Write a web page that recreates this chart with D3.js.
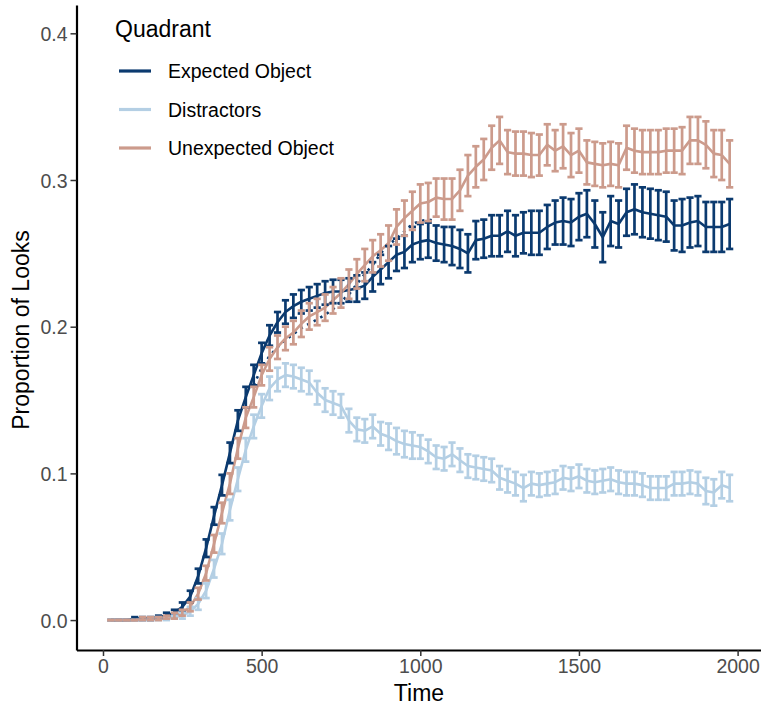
<!DOCTYPE html>
<html>
<head>
<meta charset="utf-8">
<script src="https://cdnjs.cloudflare.com/ajax/libs/d3/7.8.5/d3.min.js"></script>
<style>
body { margin:0; background:white; }
text { font-family:"Liberation Sans", Arial, sans-serif; }
.tickLabel { fill:#4d4d4d; font-size:19.5px; }
</style>
</head>
<body>
<svg id="svg1"></svg>
<script>
var times = [25,50,75,100,125,150,175,200,225,250,
    275,300,325,350,375,400,425,450,475,500,
    525,550,575,600,625,650,675,700,725,750,
    775,800,825,850,875,900,925,950,975,1000,
    1025,1050,1075,1100,1125,1150,1175,1200,1225,1250,
    1275,1300,1325,1350,1375,1400,1425,1450,1475,1500,
    1525,1550,1575,1600,1625,1650,1675,1700,1725,1750,
    1775,1800,1825,1850,1875,1900,1925,1950,1975]

var expectedMean = [0.000,0.000,0.000,0.001,0.001,0.001,0.002,0.003,0.005,0.009,
    0.016,0.030,0.049,0.071,0.092,0.114,0.136,0.152,0.167,0.182,
    0.194,0.203,0.210,0.214,0.217,0.219,0.221,0.223,0.224,0.224,
    0.225,0.226,0.228,0.234,0.239,0.244,0.249,0.251,0.256,0.258,
    0.259,0.257,0.256,0.255,0.253,0.250,0.259,0.260,0.262,0.262,
    0.265,0.262,0.264,0.264,0.264,0.268,0.271,0.272,0.271,0.275,
    0.277,0.270,0.261,0.272,0.270,0.278,0.280,0.278,0.277,0.276,
    0.275,0.269,0.269,0.271,0.272,0.268,0.268,0.268,0.270]
var expectedSE = [0.000,0.000,0.000,0.001,0.001,0.001,0.001,0.002,0.002,0.003,
    0.004,0.005,0.006,0.006,0.007,0.007,0.007,0.007,0.007,0.007,
    0.007,0.007,0.008,0.008,0.008,0.008,0.008,0.008,0.008,0.008,
    0.008,0.009,0.009,0.010,0.010,0.011,0.011,0.011,0.012,0.012,
    0.012,0.012,0.012,0.013,0.013,0.013,0.013,0.013,0.014,0.014,
    0.014,0.014,0.014,0.015,0.015,0.015,0.015,0.016,0.016,0.016,
    0.016,0.016,0.017,0.017,0.016,0.016,0.017,0.017,0.017,0.017,
    0.017,0.017,0.018,0.017,0.017,0.017,0.017,0.017,0.017]

var distractorMean = [0.000,0.000,0.000,0.000,0.000,0.001,0.001,0.001,0.002,0.003,
    0.006,0.011,0.020,0.035,0.052,0.075,0.096,0.116,0.132,0.146,
    0.158,0.164,0.167,0.166,0.164,0.162,0.155,0.150,0.148,0.146,
    0.136,0.130,0.129,0.132,0.127,0.125,0.122,0.120,0.119,0.118,
    0.115,0.111,0.110,0.113,0.109,0.105,0.104,0.103,0.102,0.097,
    0.095,0.093,0.090,0.093,0.092,0.093,0.094,0.097,0.096,0.098,
    0.095,0.094,0.095,0.096,0.094,0.093,0.093,0.092,0.090,0.090,
    0.090,0.093,0.093,0.094,0.093,0.088,0.087,0.092,0.090]
var distractorSE = [0.000,0.000,0.000,0.000,0.000,0.001,0.001,0.001,0.001,0.002,
    0.003,0.004,0.005,0.006,0.007,0.007,0.008,0.008,0.008,0.008,
    0.008,0.008,0.008,0.008,0.008,0.008,0.008,0.008,0.008,0.008,
    0.008,0.008,0.008,0.008,0.008,0.009,0.009,0.009,0.009,0.008,
    0.008,0.008,0.008,0.008,0.008,0.008,0.008,0.008,0.008,0.008,
    0.008,0.008,0.009,0.008,0.008,0.008,0.008,0.008,0.008,0.008,
    0.008,0.008,0.008,0.008,0.008,0.008,0.008,0.008,0.008,0.008,
    0.008,0.008,0.008,0.008,0.008,0.009,0.009,0.009,0.009]

var unexpectedMean = [0.000,0.000,0.000,0.000,0.001,0.001,0.001,0.002,0.003,0.005,
    0.009,0.018,0.032,0.052,0.073,0.093,0.117,0.138,0.152,0.167,
    0.178,0.186,0.192,0.196,0.202,0.207,0.210,0.213,0.218,0.223,
    0.229,0.236,0.242,0.248,0.252,0.257,0.268,0.274,0.279,0.284,
    0.285,0.288,0.287,0.287,0.293,0.303,0.309,0.314,0.322,0.327,
    0.319,0.318,0.318,0.317,0.317,0.324,0.320,0.323,0.317,0.320,
    0.312,0.311,0.310,0.311,0.310,0.322,0.320,0.319,0.319,0.319,
    0.320,0.320,0.320,0.327,0.327,0.324,0.318,0.317,0.311]
var unexpectedSE = [0.000,0.000,0.000,0.000,0.001,0.001,0.001,0.001,0.002,0.002,
    0.003,0.004,0.005,0.006,0.007,0.007,0.007,0.007,0.007,0.007,
    0.008,0.008,0.008,0.008,0.009,0.009,0.009,0.009,0.009,0.010,
    0.010,0.010,0.011,0.011,0.011,0.012,0.012,0.012,0.013,0.013,
    0.013,0.013,0.014,0.014,0.014,0.014,0.014,0.014,0.015,0.016,
    0.015,0.015,0.015,0.015,0.014,0.014,0.014,0.015,0.015,0.015,
    0.015,0.015,0.015,0.015,0.015,0.015,0.015,0.015,0.015,0.015,
    0.015,0.015,0.016,0.016,0.016,0.016,0.016,0.017,0.016]

// short dotted trace in the expected colour
var dottedTimes = [475,500,525,550,575,600,625,650,675,700,725,750,
    775,800,825,850,875,900,925,950,975,1000,1025,1050]
var dottedMean = [0.160,0.172,0.180,0.186,0.191,0.195,0.199,0.202,0.205,0.208,0.212,0.217,
    0.222,0.229,0.236,0.242,0.250,0.256,0.260,0.265,0.270,0.272,0.273,0.272]

var xTicks = [0,500,1000,1500,2000]
var yTicks = [0,0.1,0.2,0.3,0.4]

var categories = [
    {name:"Expected Object", color:"#0b3a6f", mean:expectedMean, se:expectedSE},
    {name:"Distractors", color:"#b4cfe4", mean:distractorMean, se:distractorSE},
    {name:"Unexpected Object", color:"#cc9b8c", mean:unexpectedMean, se:unexpectedSE}
]

var screen = {width:761,height:708}
var svg = d3.select("#svg1")
    .attr("width",screen.width)
    .attr("height",screen.height)

var xScale = d3.scaleLinear()
    .domain([-83.5,2075])
    .range([76.5,761.4])
var yScale = d3.scaleLinear()
    .domain([-0.0204,0.4193])
    .range([650,5])

var makePoints = function(cat)
{
    return times.map(function(t,i)
    {
        return {time:t, mean:cat.mean[i], se:cat.se[i]}
    })
}

var line = d3.line()
    .x(function(d){return xScale(d.time)})
    .y(function(d){return yScale(d.mean)})

var plot = svg.append("g")

plot.append("path")
    .datum(dottedTimes.map(function(t,i){return {time:t, mean:dottedMean[i]}}))
    .attr("d",line)
    .attr("fill","none")
    .attr("stroke",categories[0].color)
    .attr("stroke-width",2.6)
    .attr("stroke-dasharray","2.5,5")

categories.forEach(function(cat)
{
    plot.append("path")
        .datum(makePoints(cat))
        .attr("d",line)
        .attr("fill","none")
        .attr("stroke",cat.color)
        .attr("stroke-width",2.6)
        .attr("stroke-linejoin","round")
})

categories.forEach(function(cat)
{
    var bars = plot.append("g")
        .attr("stroke",cat.color)
        .attr("stroke-width",2.7)
        .selectAll("g")
        .data(makePoints(cat))
        .enter()
        .append("g")
    bars.append("line")
        .attr("x1",function(d){return xScale(d.time)})
        .attr("x2",function(d){return xScale(d.time)})
        .attr("y1",function(d){return yScale(d.mean-d.se)})
        .attr("y2",function(d){return yScale(d.mean+d.se)})
    bars.append("line")
        .attr("x1",function(d){return xScale(d.time)-3.6})
        .attr("x2",function(d){return xScale(d.time)+3.6})
        .attr("y1",function(d){return yScale(d.mean+d.se)})
        .attr("y2",function(d){return yScale(d.mean+d.se)})
    bars.append("line")
        .attr("x1",function(d){return xScale(d.time)-3.6})
        .attr("x2",function(d){return xScale(d.time)+3.6})
        .attr("y1",function(d){return yScale(d.mean-d.se)})
        .attr("y2",function(d){return yScale(d.mean-d.se)})
})

// axes
var xAxis = d3.axisBottom(xScale).tickValues(xTicks).tickSize(6).tickSizeOuter(0)
    .tickFormat(d3.format("d"))
var yAxis = d3.axisLeft(yScale).tickValues(yTicks).tickSize(6).tickSizeOuter(0)
    .tickFormat(d3.format(".1f"))

var gx = svg.append("g")
    .attr("transform","translate(0,650)")
    .call(xAxis)
var gy = svg.append("g")
    .attr("transform","translate(76.5,0)")
    .call(yAxis)

;[gx,gy].forEach(function(g)
{
    g.select(".domain").attr("stroke","black").attr("stroke-width",2.2)
    g.selectAll(".tick line").attr("stroke","#333333").attr("stroke-width",1.5)
    g.selectAll(".tick text").attr("class","tickLabel")
})
gx.selectAll(".tick text").attr("y",8).attr("dy","0.75em")
gy.selectAll(".tick text").attr("x",-9).attr("dy","0.36em")

// labels
svg.append("text")
    .text("Time")
    .attr("text-anchor","middle")
    .attr("x",419)
    .attr("y",701)
    .attr("font-size",23)
svg.append("text")
    .text("Proportion of Looks")
    .attr("text-anchor","middle")
    .attr("transform","translate(29,330) rotate(-90)")
    .attr("font-size",23)

// legend
var legend = svg.append("g")
legend.append("text")
    .text("Quadrant")
    .attr("x",115)
    .attr("y",37)
    .attr("font-size",23)
var entries = legend.selectAll("g.entry")
    .data(categories)
    .enter()
    .append("g")
    .attr("class","entry")
    .attr("transform",function(d,i){return "translate(0,"+(71+i*38.5)+")"})
entries.append("line")
    .attr("x1",119)
    .attr("x2",151)
    .attr("stroke",function(d){return d.color})
    .attr("stroke-width",3.2)
entries.append("text")
    .text(function(d){return d.name})
    .attr("x",168)
    .attr("y",7)
    .attr("font-size",19.5)
</script>
</body>
</html>
